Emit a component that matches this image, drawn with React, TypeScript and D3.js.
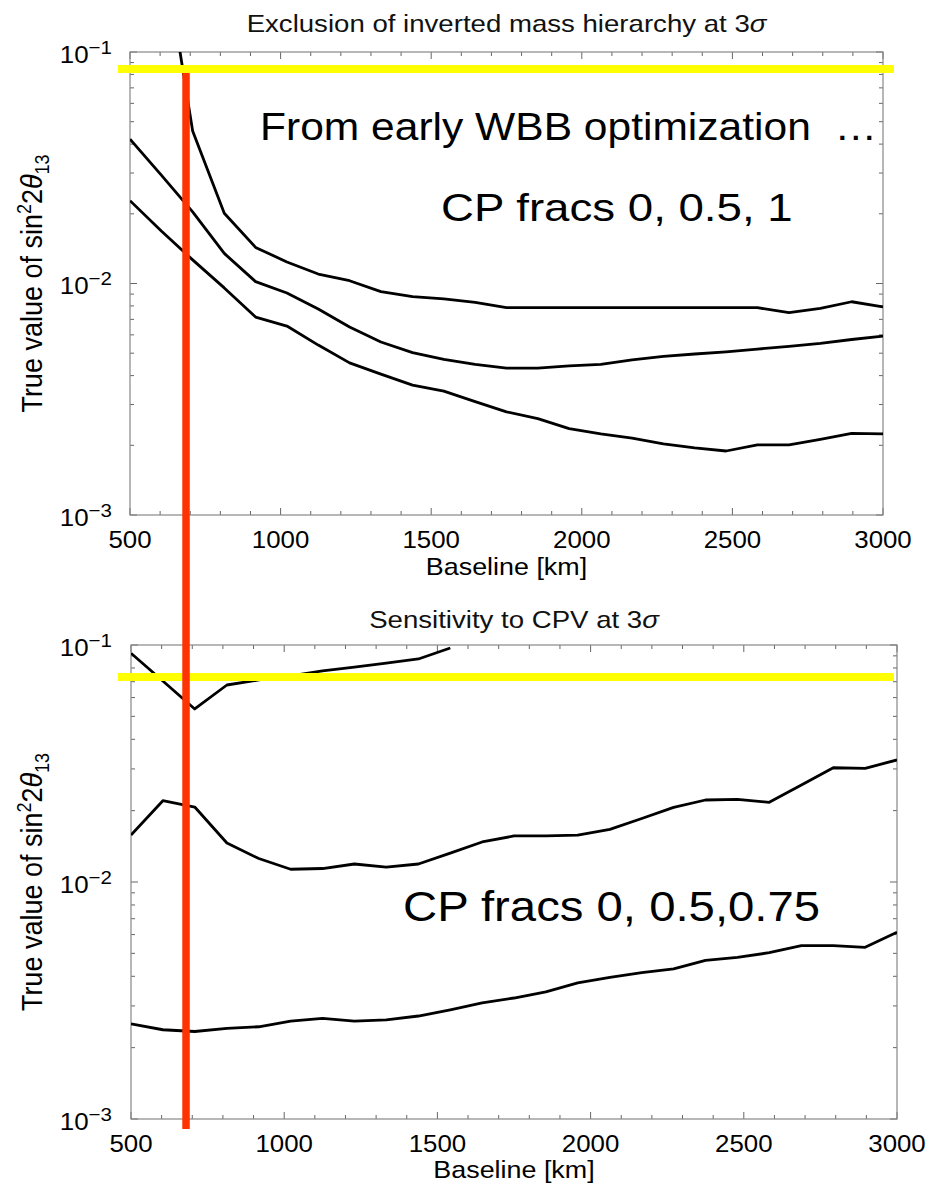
import React from 'react';
import * as d3 from 'd3';

// ---------- data ----------
const baselineKm = [500, 604, 708, 813, 917, 1021, 1125, 1229, 1333, 1438, 1542, 1646, 1750, 1854, 1958, 2063, 2167, 2271, 2375, 2479, 2583, 2688, 2792, 2896, 3000];

// Top panel: exclusion of inverted mass hierarchy at 3 sigma (CP fractions 1, 0.5, 0)
const mhCp1 = [1.2, 0.32, 0.0456, 0.0201, 0.01432, 0.01239, 0.01099, 0.01028, 0.00923, 0.00878, 0.00858, 0.00829, 0.00786, 0.00786, 0.00786, 0.00786, 0.00786, 0.00786, 0.00786, 0.00786, 0.00786, 0.00748, 0.0078, 0.00834, 0.00793];
const mhCp05 = [0.042, 0.0294, 0.0204, 0.01349, 0.01019, 0.0091, 0.00776, 0.00649, 0.00559, 0.00503, 0.0047, 0.00447, 0.00431, 0.00431, 0.00441, 0.00447, 0.00468, 0.00484, 0.00496, 0.00507, 0.00521, 0.00535, 0.00551, 0.00573, 0.00593];
const mhCp0 = [0.0228, 0.01686, 0.01265, 0.00957, 0.00716, 0.00655, 0.00542, 0.00454, 0.00406, 0.00364, 0.00343, 0.00309, 0.00279, 0.00261, 0.00236, 0.00224, 0.00215, 0.00203, 0.00195, 0.00189, 0.00201, 0.00201, 0.00212, 0.00225, 0.00224];

// Bottom panel: sensitivity to CPV at 3 sigma (CP fractions 0.75, 0.5, 0)
const cpvCp075 = [0.0923, 0.0705, 0.0537, 0.0678, 0.0712, 0.074, 0.0777, 0.0807, 0.0839, 0.0873, 0.0971];
const cpvCp05 = [0.01578, 0.02203, 0.02072, 0.01461, 0.01256, 0.01132, 0.0114, 0.01191, 0.01156, 0.01191, 0.01324, 0.01475, 0.01564, 0.01564, 0.01578, 0.01667, 0.01853, 0.02066, 0.02218, 0.02233, 0.02168, 0.02564, 0.03034, 0.03017, 0.03273];
const cpvCp0 = [0.00252, 0.00238, 0.00234, 0.00241, 0.00245, 0.00259, 0.00266, 0.00259, 0.00262, 0.00272, 0.00289, 0.00309, 0.00324, 0.00344, 0.00375, 0.00396, 0.00415, 0.0043, 0.00467, 0.00481, 0.00503, 0.00539, 0.00539, 0.0053, 0.00614];

const xDomain = [500, 3000];
const yDomain = [1e-3, 1e-1];
const xMajorTicks = [500, 1000, 1500, 2000, 2500, 3000];
const xTickLabels = ['500', '1000', '1500', '2000', '2500', '3000'];
const yDecadeExps = [-1, -2, -3];

const topTitle = 'Exclusion of inverted mass hierarchy at 3';
const bottomTitle = 'Sensitivity to CPV at 3';
const xAxisTitle = 'Baseline [km]';
const noteTop1 = 'From early WBB optimization\u00a0\u00a0\u2026';
const noteTop2 = 'CP fracs 0, 0.5, 1';
const noteBottom = 'CP fracs 0, 0.5,0.75';

// annotation guide lines (data units)
const redLineKm = 686;
const yellowTopValue = 0.0845;
const yellowBottomValue = 0.0733;

const FONT = "'Liberation Sans', Arial, Helvetica, sans-serif";

type Box = { x0: number; x1: number; y0: number; y1: number };

function SText(props: { x: number; y: number; sx?: number; size: number; anchor?: string; rotate?: boolean; children: React.ReactNode; fill?: string }) {
  const { x, y, sx = 1.12, size, anchor = 'start', rotate = false, children, fill = '#000' } = props;
  return (
    <g transform={`translate(${x},${y}) scale(${sx},1)${rotate ? ' rotate(-90)' : ''}`}>
      <text x={0} y={0} fontSize={size} textAnchor={anchor as any} fontFamily={FONT} fill={fill} style={{ whiteSpace: 'pre' }}>
        {children}
      </text>
    </g>
  );
}

function Panel(props: { id: string; box: Box; series: number[][]; title: string; titleBaseline: number; xLabelBaseline: number }) {
  const { id, box, series, title, titleBaseline, xLabelBaseline } = props;
  const x = d3.scaleLinear().domain(xDomain).range([box.x0, box.x1]);
  const y = d3.scaleLog().domain(yDomain).range([box.y1, box.y0]);
  const line = d3
    .line<[number, number]>()
    .x((d) => x(d[0]))
    .y((d) => y(d[1]));
  const minorX = d3.range(xDomain[0], xDomain[1] + 1, 100);
  const yTicks = y.ticks();
  const cx = (box.x0 + box.x1) / 2;
  const cy = (box.y0 + box.y1) / 2;
  const tickCol = '#666';
  return (
    <g>
      <defs>
        <clipPath id={id}>
          <rect x={box.x0} y={box.y0} width={box.x1 - box.x0} height={box.y1 - box.y0} />
        </clipPath>
      </defs>
      {/* ticks */}
      {minorX.map((v) => {
        const major = xMajorTicks.includes(v);
        const L = major ? 7 : 4;
        return (
          <g key={'x' + v} stroke={tickCol} strokeWidth={1}>
            <line x1={x(v)} x2={x(v)} y1={box.y1} y2={box.y1 - L} />
            <line x1={x(v)} x2={x(v)} y1={box.y0} y2={box.y0 + L} />
          </g>
        );
      })}
      {yTicks.map((v) => {
        const lg = Math.log10(v);
        const major = Math.abs(lg - Math.round(lg)) < 1e-9;
        const L = major ? 7 : 4;
        return (
          <g key={'y' + v} stroke={tickCol} strokeWidth={1}>
            <line x1={box.x0} x2={box.x0 + L} y1={y(v)} y2={y(v)} />
            <line x1={box.x1} x2={box.x1 - L} y1={y(v)} y2={y(v)} />
          </g>
        );
      })}
      <rect x={box.x0} y={box.y0} width={box.x1 - box.x0} height={box.y1 - box.y0} fill="none" stroke="#888" strokeWidth={1.2} />
      {/* curves */}
      <g clipPath={`url(#${id})`}>
        {series.map((s, i) => (
          <path
            key={i}
            d={line(s.map((v, j) => [baselineKm[j], v] as [number, number])) || ''}
            fill="none"
            stroke="#000"
            strokeWidth={2.8}
            strokeLinejoin="round"
          />
        ))}
      </g>
      {/* x tick labels */}
      {xMajorTicks.map((v, i) => (
        <SText key={'xl' + v} x={x(v)} y={box.y1 + 33} size={23.5} sx={1.1} anchor="middle">
          {xTickLabels[i]}
        </SText>
      ))}
      {/* y tick labels */}
      {yDecadeExps.map((e) => (
        <SText key={'yl' + e} x={112} y={y(Math.pow(10, e)) + 10.5} size={24} sx={1.08} anchor="end">
          <tspan>10</tspan>
          <tspan dy={-9} fontSize={19}>{'\u2212' + Math.abs(e)}</tspan>
        </SText>
      ))}
      {/* titles */}
      <SText x={cx} y={titleBaseline} size={24} sx={1.15} anchor="middle" fill="#111">
        {title}
        <tspan fontStyle="italic">σ</tspan>
      </SText>
      <SText x={cx} y={xLabelBaseline} size={24} sx={1.12} anchor="middle">
        {xAxisTitle}
      </SText>
      <SText x={42} y={cy} size={27} sx={1.1} anchor="middle" rotate>
        <tspan>True value of sin</tspan>
        <tspan dy={-10} fontSize={18}>2</tspan>
        <tspan dy={10}>2</tspan>
        <tspan fontStyle="italic">θ</tspan>
        <tspan dy={6} fontSize={18}>13</tspan>
      </SText>
    </g>
  );
}

export default function App() {
  const topBox: Box = { x0: 130, x1: 883, y0: 52, y1: 515 };
  const botBox: Box = { x0: 131, x1: 897, y0: 645, y1: 1119 };
  const xTop = d3.scaleLinear().domain(xDomain).range([topBox.x0, topBox.x1]);
  const yTop = d3.scaleLog().domain(yDomain).range([topBox.y1, topBox.y0]);
  const yBot = d3.scaleLog().domain(yDomain).range([botBox.y1, botBox.y0]);
  const redX = xTop(redLineKm);
  const yTopLine = yTop(yellowTopValue);
  const yBotLine = yBot(yellowBottomValue);
  return (
    <svg width={933} height={1187} style={{ position: 'absolute', left: 0, top: 0, background: '#fff' }}>
      <rect x={0} y={0} width={933} height={1187} fill="#fff" />
      <Panel id="clipTop" box={topBox} series={[mhCp1, mhCp05, mhCp0]} title={topTitle} titleBaseline={32} xLabelBaseline={575} />
      <Panel id="clipBot" box={botBox} series={[cpvCp075, cpvCp05, cpvCp0]} title={bottomTitle} titleBaseline={628} xLabelBaseline={1178} />
      {/* overlay notes */}
      <SText x={260} y={140} size={38} sx={1.12}>{noteTop1}</SText>
      <SText x={441} y={221} size={39} sx={1.17}>{noteTop2}</SText>
      <SText x={403} y={921} size={43} sx={1.1}>{noteBottom}</SText>
      {/* guide lines */}
      <line x1={118} x2={894} y1={yTopLine} y2={yTopLine} stroke="#ffff00" strokeWidth={8} />
      <line x1={118} x2={894} y1={yBotLine} y2={yBotLine} stroke="#ffff00" strokeWidth={8} />
      <line x1={redX} x2={redX} y1={yTopLine + 4} y2={botBox.y1 + 10} stroke="#ff3300" strokeWidth={7.5} />
    </svg>
  );
}
